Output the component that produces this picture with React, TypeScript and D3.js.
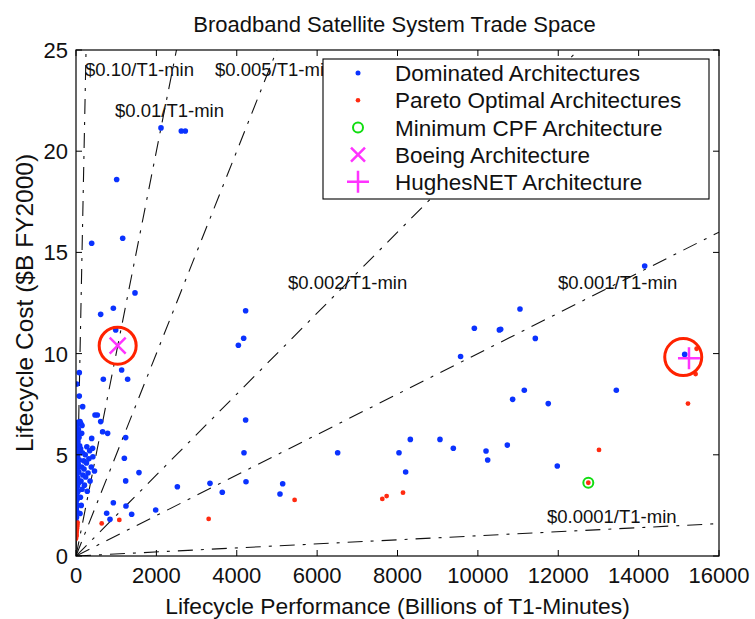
import React from "react";
import * as d3 from "d3";

// ---------- DATA ----------
const xTicks = [0, 2000, 4000, 6000, 8000, 10000, 12000, 14000, 16000];
const yTicks = [0, 5, 10, 15, 20, 25];

const costRates = [0.1, 0.01, 0.005, 0.002, 0.001, 0.0001];
const rateLabels = ["$0.10/T1-min", "$0.01/T1-min", "$0.005/T1-min", "$0.002/T1-min", "$0.001/T1-min", "$0.0001/T1-min"];
// anchor (data coords) of each rate label: start x, middle y
const rateLabelAnchors: [number, number][] = [
  [224, 24.06], [970, 21.99], [3459, 24.06], [5275, 13.49], [11994, 13.49], [11720, 1.93],
];

// Dominated architectures (performance, cost)
const dominatedCluster: [number, number][] = [
  [0, 1.5], [5, 1.7], [12, 1.9], [3, 2.1], [20, 2.2], [8, 2.35], [30, 2.5], [2, 2.6], [15, 2.75], [40, 2.85],
  [6, 3.0], [25, 3.1], [50, 3.2], [10, 3.35], [35, 3.45], [0, 3.55], [60, 3.6], [18, 3.75], [45, 3.85], [4, 3.95],
  [28, 4.05], [70, 4.15], [12, 4.25], [38, 4.35], [0, 4.45], [55, 4.55], [22, 4.65], [80, 4.75], [8, 4.85], [42, 4.95],
  [16, 5.05], [65, 5.15], [0, 5.25], [30, 5.35], [90, 5.45], [10, 5.55], [48, 5.65], [20, 5.75], [75, 5.85], [5, 5.95],
  [35, 6.05], [14, 6.15], [58, 6.25], [0, 6.35], [25, 6.45], [85, 6.55], [45, 6.6], [120, 6.55], [150, 6.45],
  [100, 2.1], [130, 2.5], [110, 2.9], [150, 3.3], [125, 3.7], [170, 4.0], [140, 4.4], [190, 4.7], [160, 5.1], [115, 5.3],
  [210, 3.5], [240, 3.9], [200, 4.3], [260, 4.6], [230, 5.0], [280, 3.2], [300, 4.1], [320, 4.8], [350, 3.7], [380, 4.4],
  [270, 5.4], [340, 5.2], [390, 5.81], [413, 5.32], [141, 6.06], [100, 6.64], [166, 7.38], [82, 7.9], [20, 8.5], [82, 9.06],
  [473, 6.97], [530, 6.97], [614, 6.64], [663, 6.14], [787, 6.06], [420, 4.9], [460, 4.2],
];
const dominatedScatter: [number, number][] = [
  [2115, 21.15], [2620, 21.0], [2720, 21.0], [1012, 18.6], [1162, 15.7], [390, 15.45], [1468, 13.0], [929, 12.24],
  [614, 11.94], [988, 11.17], [1136, 9.19], [680, 8.73], [1285, 8.73], [1236, 5.85], [1203, 4.83], [1567, 4.12],
  [1236, 3.71], [2522, 3.42], [3334, 3.59], [3640, 3.15], [4221, 12.12], [4172, 10.76], [4040, 10.41], [4221, 6.72],
  [4180, 5.1], [4230, 3.67], [929, 2.63], [763, 2.11], [846, 1.81], [1244, 2.47], [1385, 2.06], [1983, 2.27],
  [9912, 11.25], [10535, 11.17], [9570, 9.86], [6511, 5.1], [8037, 5.1], [8319, 5.76], [9057, 5.76], [9389, 5.32],
  [10203, 5.19], [10244, 4.74], [8203, 4.15], [5143, 3.57], [5076, 3.06], [14151, 14.33], [11048, 12.2],
  [10567, 11.2], [11429, 10.75], [15146, 9.96], [13445, 8.19], [11155, 8.19], [10865, 7.74], [11751, 7.53],
  [10733, 5.48], [11976, 4.45],
];
const paretoPoints: [number, number][] = [
  [0, 0.85], [5, 0.95], [10, 1.05], [15, 1.15], [20, 1.25], [25, 1.35], [30, 1.45], [35, 1.55], [40, 1.65], [12, 1.0],
  [639, 1.61], [1078, 1.78], [3301, 1.83], [5440, 2.77], [7622, 2.82], [7730, 2.96], [8137, 3.13], [12748, 3.62],
  [13014, 5.24], [15228, 7.53], [15418, 8.99], [15443, 10.24],
];
const minCpf: [number, number] = [12748, 3.62];
const boeing: [number, number] = [1037, 10.39];
const hughes: [number, number] = [15253, 9.77];
const hughesRing: [number, number] = [15110, 9.83];

const legendLabels = [
  "Dominated Architectures",
  "Pareto Optimal Architectures",
  "Minimum CPF Architecture",
  "Boeing Architecture",
  "HughesNET Architecture",
];

// ---------- LAYOUT ----------
const W = 755, H = 619;
const L = 76, R = 719, T = 50, B = 556;
const FONT = "'Liberation Sans', Arial, Helvetica, sans-serif";
const BLUE = "#0a32ff";
const RED = "#ff2a10";
const MAGENTA = "#ff33ff";
const GREEN = "#11dd11";
const RING = "#ff2200";
const TXT = "#111";

export default function App() {
  const x = d3.scaleLinear().domain([0, 16000]).range([L, R]);
  const y = d3.scaleLinear().domain([0, 25]).range([B, T]);
  const line = d3.line<[number, number]>().x((d) => x(d[0])).y((d) => y(d[1]));

  const rateLine = (r: number): [number, number][] => {
    const xe = Math.min(16000, 25 / r);
    return [[0, 0], [xe, r * xe]];
  };

  const tick = 6;
  const legX = 323, legY = 59, legW = 386, legH = 140;
  const legMarkX = 358, legTextX = 395;
  const legRow = (i: number) => 73 + i * 27.2;

  const xMark = (cx: number, cy: number, s: number) =>
    `M${cx - s},${cy - s}L${cx + s},${cy + s}M${cx - s},${cy + s}L${cx + s},${cy - s}`;
  const plusMark = (cx: number, cy: number, s: number) =>
    `M${cx - s},${cy}L${cx + s},${cy}M${cx},${cy - s}L${cx},${cy + s}`;

  return (
    <svg width={W} height={H} style={{ position: "absolute", left: 0, top: 0, background: "#fff" }} fontFamily={FONT}>
      <rect x={0} y={0} width={W} height={H} fill="#fff" />
      <defs>
        <clipPath id="plotclip">
          <rect x={L} y={T} width={R - L} height={B - T} />
        </clipPath>
      </defs>

      {/* title */}
      <text x={(L + R) / 2 - 3} y={32} textAnchor="middle" fontSize={22} fill={TXT}>
        Broadband Satellite System Trade Space
      </text>

      {/* cost-rate lines */}
      <g clipPath="url(#plotclip)">
        {costRates.map((r, i) => (
          <path key={i} d={line(rateLine(r)) || ""} fill="none" stroke="#111" strokeWidth={1.1}
            strokeDasharray="15,8,3,8" />
        ))}
      </g>
      {rateLabels.map((t, i) => (
        <text key={t} x={x(rateLabelAnchors[i][0])} y={y(rateLabelAnchors[i][1])} dy="0.35em"
          fontSize={18.5} fill={TXT}>{t}</text>
      ))}

      {/* points */}
      <g clipPath="url(#plotclip)">
        {dominatedCluster.concat(dominatedScatter).map((d, i) => (
          <circle key={"d" + i} cx={x(d[0])} cy={y(d[1])} r={2.8} fill={BLUE} />
        ))}
        {paretoPoints.map((d, i) => (
          <circle key={"p" + i} cx={x(d[0])} cy={y(d[1])} r={2.4} fill={RED} />
        ))}
        <circle cx={x(minCpf[0])} cy={y(minCpf[1])} r={5} fill="none" stroke={GREEN} strokeWidth={2} />
        <path d={xMark(x(boeing[0]), y(boeing[1]), 8)} stroke={MAGENTA} strokeWidth={2.5} fill="none" />
        <path d={plusMark(x(hughes[0]), y(hughes[1]), 11)} stroke={MAGENTA} strokeWidth={2.5} fill="none" />
      </g>
      <circle cx={x(boeing[0])} cy={y(boeing[1])} r={18.5} fill="none" stroke={RING} strokeWidth={3} />
      <circle cx={x(hughesRing[0])} cy={y(hughesRing[1])} r={18.5} fill="none" stroke={RING} strokeWidth={3} />

      {/* axes box */}
      <rect x={L} y={T} width={R - L} height={B - T} fill="none" stroke="#000" strokeWidth={1.2} />
      {xTicks.map((t) => (
        <g key={"xt" + t}>
          <line x1={x(t)} x2={x(t)} y1={B} y2={B - tick} stroke="#000" />
          <line x1={x(t)} x2={x(t)} y1={T} y2={T + tick} stroke="#000" />
          <text x={x(t)} y={583} textAnchor="middle" fontSize={22} fill={TXT}>{t}</text>
        </g>
      ))}
      {yTicks.map((t) => (
        <g key={"yt" + t}>
          <line x1={L} x2={L + tick} y1={y(t)} y2={y(t)} stroke="#000" />
          <line x1={R} x2={R - tick} y1={y(t)} y2={y(t)} stroke="#000" />
          <text x={68} y={y(t)} dy="0.36em" textAnchor="end" fontSize={22} fill={TXT}>{t}</text>
        </g>
      ))}

      {/* axis labels */}
      <text x={(L + R) / 2} y={614} textAnchor="middle" fontSize={22.8} fill={TXT}>
        Lifecycle Performance (Billions of T1-Minutes)
      </text>
      <text transform={`translate(33,${(T + B) / 2}) rotate(-90)`} textAnchor="middle" fontSize={24.5} fill={TXT}>
        Lifecycle Cost ($B FY2000)
      </text>

      {/* legend */}
      <rect x={legX} y={legY} width={legW} height={legH} fill="#fff" stroke="#000" strokeWidth={1.1} />
      <circle cx={legMarkX} cy={legRow(0)} r={2.5} fill={BLUE} />
      <circle cx={legMarkX} cy={legRow(1)} r={2.3} fill={RED} />
      <circle cx={legMarkX} cy={legRow(2)} r={5} fill="none" stroke={GREEN} strokeWidth={2} />
      <path d={xMark(legMarkX, legRow(3), 7)} stroke={MAGENTA} strokeWidth={2.5} fill="none" />
      <path d={plusMark(legMarkX, legRow(4), 11)} stroke={MAGENTA} strokeWidth={2.5} fill="none" />
      {legendLabels.map((t, i) => (
        <text key={t} x={legTextX} y={legRow(i)} dy="0.36em" fontSize={22.5} fill={TXT}>{t}</text>
      ))}
    </svg>
  );
}
